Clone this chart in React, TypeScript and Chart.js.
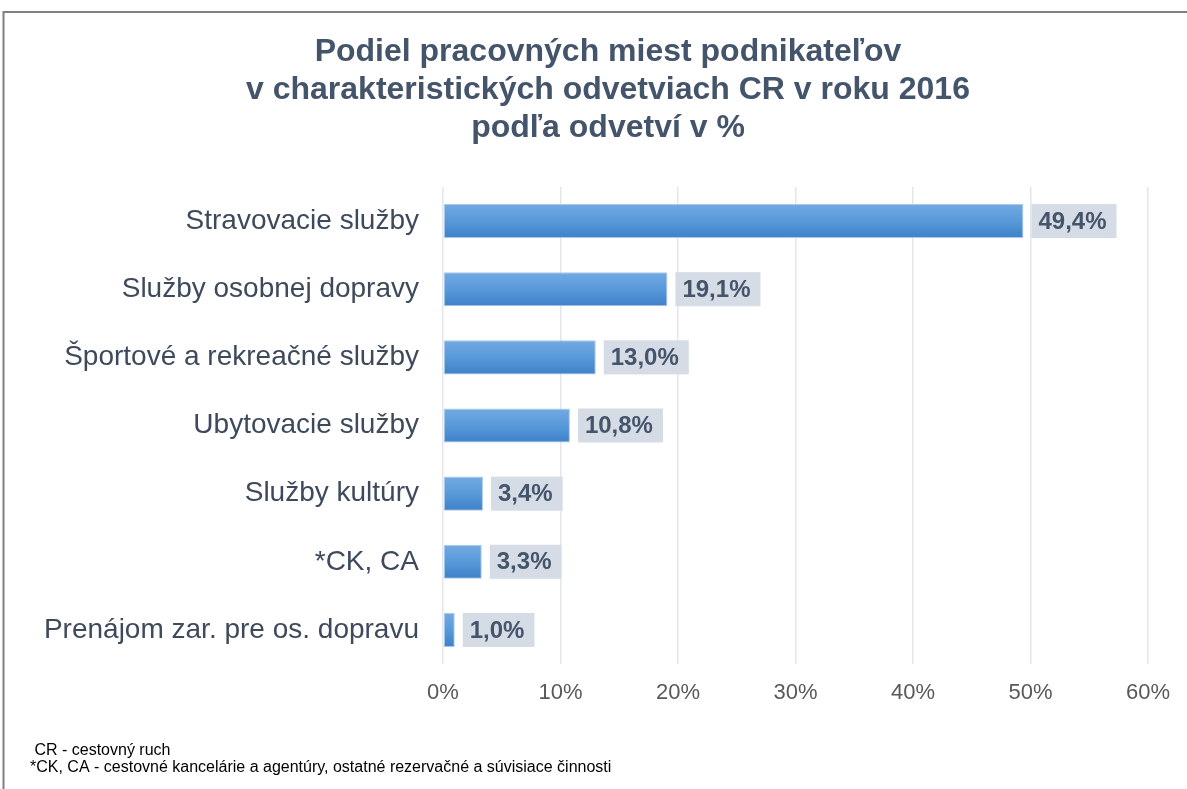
import React, { useEffect, useRef } from "react";
import { Chart, registerables } from "chart.js";

Chart.register(...registerables);

const categories = [
  "Stravovacie služby",
  "Služby osobnej dopravy",
  "Športové a rekreačné služby",
  "Ubytovacie služby",
  "Služby kultúry",
  "*CK, CA",
  "Prenájom zar. pre os. dopravu",
];
const values = [49.4, 19.1, 13.0, 10.8, 3.4, 3.3, 1.0];
const titleLines = [
  "Podiel pracovných miest podnikateľov",
  "v charakteristických odvetviach CR v roku 2016",
  "podľa odvetví v %",
];
const footnotes = [
  " CR - cestovný ruch",
  "*CK, CA - cestovné kancelárie a agentúry, ostatné rezervačné a súvisiace činnosti",
];
const xMax = 60;
const xStep = 10;

const FONT = "'Liberation Sans', Arial, sans-serif";

const decorPlugin = {
  id: "decor",
  beforeDraw(chart: any) {
    const ctx = chart.ctx;
    ctx.save();
    ctx.fillStyle = "#ffffff";
    ctx.fillRect(0, 0, chart.width, chart.height);
    ctx.strokeStyle = "#808080";
    ctx.lineWidth = 2;
    ctx.beginPath();
    ctx.moveTo(3.5, chart.height + 5);
    ctx.lineTo(3.5, 12);
    ctx.lineTo(chart.width + 5, 12);
    ctx.stroke();
    // title
    ctx.fillStyle = "#44546a";
    ctx.font = `bold 32px ${FONT}`;
    ctx.textAlign = "center";
    ctx.textBaseline = "middle";
    titleLines.forEach((t, i) => ctx.fillText(t, 608, 52 + i * 38));
    // footnotes
    ctx.fillStyle = "#000000";
    ctx.font = `16px ${FONT}`;
    ctx.textAlign = "left";
    footnotes.forEach((t, i) => ctx.fillText(t, 30, 751 + i * 17));
    ctx.restore();
  },
  beforeDatasetsDraw(chart: any) {
    const meta = chart.getDatasetMeta(0);
    meta.data.forEach((el: any) => {
      const top = el.y - el.height / 2;
      const g = chart.ctx.createLinearGradient(0, top, 0, top + el.height);
      g.addColorStop(0, "#73aae1");
      g.addColorStop(0.5, "#5899d9");
      g.addColorStop(1, "#3e81c8");
      el.options.backgroundColor = g;
    });
  },
  afterDatasetsDraw(chart: any) {
    const ctx = chart.ctx;
    const meta = chart.getDatasetMeta(0);
    ctx.save();
    ctx.font = `bold 24px ${FONT}`;
    ctx.textBaseline = "middle";
    ctx.textAlign = "left";
    meta.data.forEach((bar: any, i: number) => {
      const label = values[i].toFixed(1).replace(".", ",") + "%";
      const w = ctx.measureText(label).width;
      const h = bar.height;
      const x0 = bar.x + 8;
      ctx.fillStyle = "#d6dce5";
      ctx.fillRect(x0, bar.y - h / 2, w + 17, h);
      ctx.fillStyle = "#44546a";
      ctx.fillText(label, x0 + 7, bar.y + 1);
    });
    ctx.restore();
  },
};

export default function App() {
  const ref = useRef<HTMLCanvasElement>(null);
  useEffect(() => {
    document.body.style.margin = "0";
    const canvas = ref.current!;
    const chart = new Chart(canvas, {
      type: "bar",
      data: {
        labels: categories,
        datasets: [
          {
            data: values,
            backgroundColor: (c: any) => "#5b9bd5",
            borderColor: "#a9c8ea",
            borderWidth: 1,
            borderSkipped: false,
            barPercentage: 0.5,
            categoryPercentage: 1,
          },
        ],
      },
      options: {
        indexAxis: "y",
        animation: false,
        responsive: false,
        maintainAspectRatio: false,
        layout: { padding: { top: 187, left: 20, right: 39, bottom: 0 } },
        plugins: { legend: { display: false }, tooltip: { enabled: false }, title: { display: false } },
        scales: {
          x: {
            min: 0,
            max: xMax,
            ticks: {
              stepSize: xStep,
              color: "#595959",
              font: { family: FONT, size: 22 },
              padding: 16,
              callback: (v: any) => v + "%",
            },
            grid: { color: "#e3e6ec", lineWidth: 1.5, drawTicks: false },
            border: { display: false },
            afterFit: (s: any) => {
              s.height = 125;
            },
          },
          y: {
            ticks: {
              color: "#3e4a5c",
              font: { family: FONT, size: 28 },
              padding: 24,
            },
            grid: { display: false, drawTicks: false },
            border: { display: false },
            afterFit: (s: any) => {
              s.width = 423;
            },
          },
        },
      },
      plugins: [decorPlugin],
    } as any);
    return () => chart.destroy();
  }, []);
  return (
    <div style={{ position: "absolute", left: 0, top: 0, width: 1187, height: 789 }}>
      <canvas ref={ref} width={1187} height={789} style={{ width: 1187, height: 789 }} />
    </div>
  );
}
